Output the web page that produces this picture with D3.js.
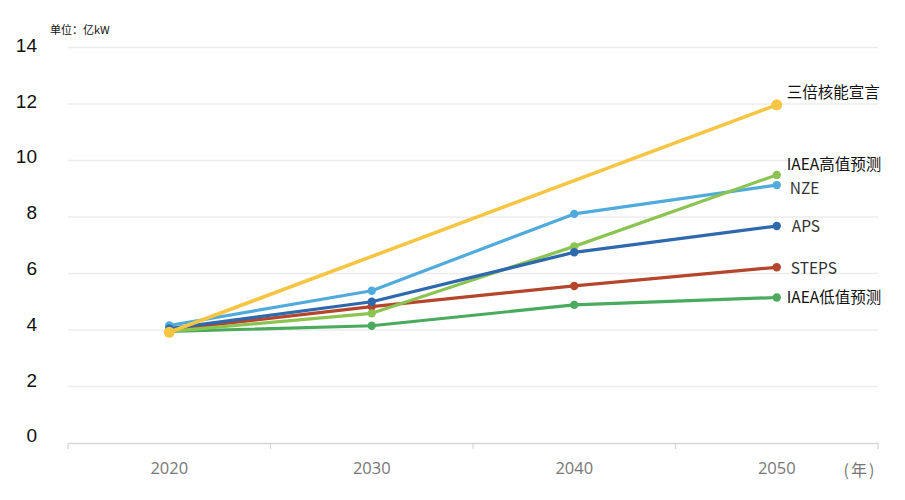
<!DOCTYPE html>
<html><head><meta charset="utf-8">
<script src="https://cdn.jsdelivr.net/npm/d3@7"></script>
<style>body{margin:0;background:#fff}svg{display:block}</style>
</head><body><svg id="c" width="905" height="500"></svg>
<script>
const years = ["2020","2030","2040","2050"];
const yTicks = [0,2,4,6,8,10,12,14];
const seriesNames = ["IAEA低值预测","STEPS","NZE","IAEA高值预测","APS","三倍核能宣言"];
const seriesColors = ["#4aaa5e","#b5452b","#4fabdc","#8cc452","#2e68ad","#f5c543"];
const lowValues   = [3.95, 4.15, 4.89, 5.15];
const stepsValues = [4.00, 4.83, 5.56, 6.22];
const nzeValues   = [4.16, 5.39, 8.11, 9.13];
const highValues  = [3.95, 4.59, 6.96, 9.49];
const apsValues   = [4.05, 5.00, 6.75, 7.68];
const tripleValues= [3.92, null, null, 11.97];

const svg = d3.select("#c");
const x = d3.scaleBand().domain(years).range([68, 878]);
const y = d3.scaleLinear().domain([0,14]).range([443, 47.5]);
const yLabel = d3.scaleLinear().domain([0,14]).range([435.5, 45]);

// grid
svg.append("g").selectAll("line").data(yTicks.filter(d=>d>0)).join("line")
  .attr("x1",68).attr("x2",878).attr("y1",d=>y(d)).attr("y2",d=>y(d))
  .attr("stroke","#ececec").attr("stroke-width",1.5);

// y axis labels
const ya = svg.append("g").attr("transform","translate(37,0)")
  .call(d3.axisLeft(y).tickValues(yTicks).tickSize(0).tickPadding(0));
ya.select(".domain").remove();
ya.selectAll(".tick").attr("transform",d=>"translate(0,"+yLabel(d)+")");
ya.selectAll("text").attr("font-family","Liberation Sans, Arial, sans-serif")
  .attr("font-size",19).attr("fill","#111").attr("dy","0.36em");

// x axis
const xa = svg.append("g").attr("transform","translate(0,443)")
  .call(d3.axisBottom(x).tickSize(0).tickPadding(0));
xa.select(".domain").attr("stroke","#d6d6d6").attr("stroke-width",1.5);
xa.selectAll("text").attr("font-family","Open Sans, Noto Sans, sans-serif")
  .attr("font-size",16.5).attr("fill","#777").attr("dy","1.85em");
// boundary ticks
const bounds = years.map(d=>x(d)).concat([x.range()[1]]);
xa.append("g").selectAll("line").data(bounds).join("line")
  .attr("x1",d=>d).attr("x2",d=>d).attr("y1",0).attr("y2",6)
  .attr("stroke","#d6d6d6").attr("stroke-width",1.2);
svg.append("text").attr("x",860).attr("y",476).attr("text-anchor","middle")
  .attr("font-family","Noto Sans CJK SC, sans-serif").attr("font-size",16)
  .attr("fill","#777").attr("letter-spacing",2).text("(年)");

// unit
svg.append("text").attr("x",50).attr("y",34)
  .attr("font-family","Noto Sans CJK SC, sans-serif").attr("font-size",11)
  .attr("fill","#111").text("单位：亿kW");

const allValues = [lowValues, stepsValues, nzeValues, highValues, apsValues, tripleValues];
const cx = d => x(d) + x.bandwidth()/2;
const line = d3.line().x(d=>cx(d.year)).y(d=>y(d.v));

allValues.forEach((vals,i)=>{
  const pts = years.map((yr,j)=>({year:yr, v:vals[j]})).filter(p=>p.v!=null);
  const isTriple = i===5;
  svg.append("path").datum(pts).attr("d",line).attr("fill","none")
    .attr("stroke",seriesColors[i]).attr("stroke-width",isTriple?3.6:3.2)
    .attr("stroke-linejoin","round").attr("stroke-linecap","round");
  svg.append("g").selectAll("circle").data(pts).join("circle")
    .attr("cx",d=>cx(d.year)).attr("cy",d=>y(d.v)).attr("r",isTriple?5.5:4.2)
    .attr("fill",seriesColors[i]);
});

// end labels
const lblPos = [
  {name:"三倍核能宣言", v:tripleValues[3], dy:-12, dx:10, fill:"#111"},
  {name:"IAEA高值预测", v:highValues[3], dy:-10, dx:10, fill:"#111"},
  {name:"NZE", v:nzeValues[3], dy:3, dx:13, fill:"#333"},
  {name:"APS", v:apsValues[3], dy:0, dx:15, fill:"#333"},
  {name:"STEPS", v:stepsValues[3], dy:1, dx:14, fill:"#333"},
  {name:"IAEA低值预测", v:lowValues[3], dy:0, dx:10, fill:"#111"}
];
svg.append("g").selectAll("text").data(lblPos).join("text")
  .attr("x",d=>cx("2050")+d.dx).attr("y",d=>y(d.v)+d.dy).attr("dy","0.36em")
  .attr("font-family","Noto Sans CJK SC, sans-serif").attr("font-size",15.5)
  .attr("fill",d=>d.fill).text(d=>d.name);
</script></body></html>
